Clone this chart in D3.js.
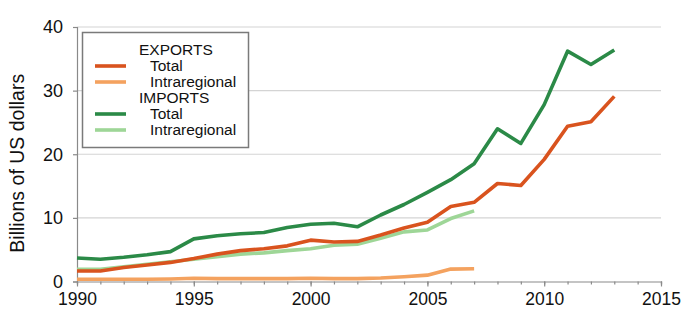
<!DOCTYPE html>
<html>
<head>
<meta charset="utf-8">
<script src="https://cdn.jsdelivr.net/npm/d3@7"></script>
<style>
    body { margin: 0; background: #fff; }
    svg { font-family: Arial, "Liberation Sans", sans-serif; }
    .grid line { stroke: #d4d4d4; stroke-width: 1.2; }
    .axis path, .axis line { stroke: #8a8a8a; stroke-width: 1.2; }
    .axis text { fill: #111; font-size: 18px; }
</style>
</head>
<body>
<svg id="chartSVG" width="686" height="311"></svg>
<script>
// data (billions of US dollars)
const years = d3.range(1990, 2014);
const exportsTotal = [1.65, 1.65, 2.2, 2.6, 3.0, 3.6, 4.3, 4.85, 5.15, 5.6, 6.5, 6.2, 6.3, 7.3, 8.4, 9.3, 11.8, 12.45, 15.4, 15.1, 19.2, 24.4, 25.1, 29.1];
const importsTotal = [3.7, 3.5, 3.8, 4.2, 4.7, 6.7, 7.2, 7.5, 7.7, 8.5, 9.0, 9.15, 8.6, 10.45, 12.1, 14.0, 16.0, 18.5, 24.0, 21.7, 27.8, 36.2, 34.1, 36.4];
// intraregional series stop in 2007
const exportsIntra = [0.35, 0.35, 0.35, 0.35, 0.4, 0.5, 0.45, 0.45, 0.45, 0.45, 0.5, 0.45, 0.45, 0.55, 0.75, 1.0, 1.95, 2.0];
const importsIntra = [1.9, 1.9, 2.3, 2.7, 3.1, 3.5, 3.9, 4.3, 4.5, 4.85, 5.15, 5.7, 5.85, 6.8, 7.8, 8.1, 9.9, 11.1];

const xTicks = [1990, 1995, 2000, 2005, 2010, 2015];
const yTicks = [0, 10, 20, 30, 40];

// series in drawing order (light ones first)
const series = [
    {name: 'exportsIntra', values: exportsIntra, color: '#f4a25f'},
    {name: 'importsIntra', values: importsIntra, color: '#9ed697'},
    {name: 'exportsTotal', values: exportsTotal, color: '#d9531e'},
    {name: 'importsTotal', values: importsTotal, color: '#2b8a47'}
];

const svg = d3.select('#chartSVG');

const xScale = d3.scaleLinear().domain([1990, 2015]).range([77, 661]);
const yScale = d3.scaleLinear().domain([0, 40]).range([281.5, 27]);

// horizontal gridlines
svg.append('g')
    .attr('class', 'grid')
    .selectAll('line')
    .data(yTicks.slice(1))
    .enter()
    .append('line')
    .attr('x1', xScale(1990))
    .attr('x2', xScale(2015))
    .attr('y1', d => yScale(d))
    .attr('y2', d => yScale(d));

// y axis
const yAxis = d3.axisLeft(yScale)
    .tickValues(yTicks)
    .tickSize(4)
    .tickPadding(10);
svg.append('g')
    .attr('class', 'axis')
    .attr('transform', 'translate(' + xScale(1990) + ',0)')
    .call(yAxis);

// x axis - minor ticks every year, labels every 5
const xMinor = d3.axisBottom(xScale)
    .tickValues(d3.range(1990, 2016))
    .tickSize(3)
    .tickFormat('');
svg.append('g')
    .attr('class', 'axis')
    .attr('transform', 'translate(0,' + yScale(0) + ')')
    .call(xMinor);

const xAxis = d3.axisBottom(xScale)
    .tickValues(xTicks)
    .tickSize(5)
    .tickPadding(6)
    .tickFormat(d3.format('d'));
svg.append('g')
    .attr('class', 'axis')
    .attr('transform', 'translate(0,' + yScale(0) + ')')
    .call(xAxis)
    .call(g => g.select('.domain').remove())
    .call(g => g.selectAll('text').style('font-size', '17.5px'));

// y axis title
svg.append('text')
    .attr('transform', 'translate(24,' + ((yScale(0) + yScale(40)) / 2 + 9) + ') rotate(-90)')
    .attr('text-anchor', 'middle')
    .style('font-size', '19.5px')
    .style('fill', '#111')
    .text('Billions of US dollars');

// lines
const line = d3.line()
    .x((d, i) => xScale(years[i]))
    .y(d => yScale(d));

svg.selectAll('.series')
    .data(series)
    .enter()
    .append('path')
    .attr('class', 'series')
    .attr('d', d => line(d.values))
    .attr('fill', 'none')
    .attr('stroke', d => d.color)
    .attr('stroke-width', 3.6)
    .attr('stroke-linejoin', 'round');

// legend
const legendRows = [
    {label: 'EXPORTS', x: 139, y: 55},
    {label: 'Total', x: 150, y: 71, color: '#d9531e'},
    {label: 'Intraregional', x: 150, y: 87, color: '#f4a25f'},
    {label: 'IMPORTS', x: 139, y: 103},
    {label: 'Total', x: 150, y: 119, color: '#2b8a47'},
    {label: 'Intraregional', x: 150, y: 135, color: '#9ed697'}
];

const legGrp = svg.append('g').attr('class', 'legendGrp');

legGrp.append('rect')
    .attr('x', 82.5)
    .attr('y', 32.5)
    .attr('width', 166)
    .attr('height', 115)
    .attr('fill', '#fff')
    .attr('stroke', '#7a7a7a')
    .attr('stroke-width', 1.5);

legGrp.selectAll('.legendLine')
    .data(legendRows.filter(d => d.color))
    .enter()
    .append('line')
    .attr('x1', 95)
    .attr('x2', 126)
    .attr('y1', d => d.y - 5)
    .attr('y2', d => d.y - 5)
    .attr('stroke', d => d.color)
    .attr('stroke-width', 3.6);

legGrp.selectAll('.legendLabel')
    .data(legendRows)
    .enter()
    .append('text')
    .attr('x', d => d.x)
    .attr('y', d => d.y)
    .style('font-size', '15.5px')
    .style('fill', '#111')
    .text(d => d.label);
</script>
</body>
</html>
